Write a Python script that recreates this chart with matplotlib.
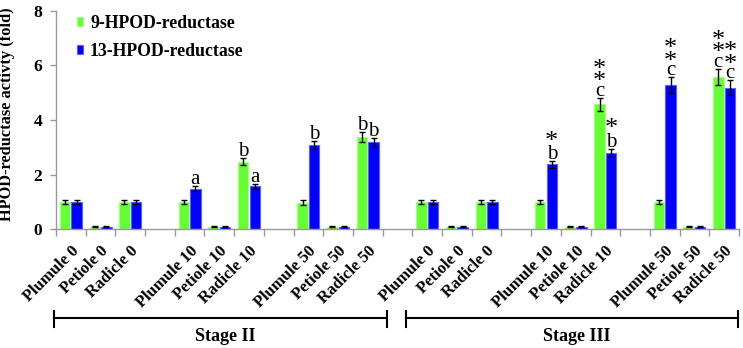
import numpy as np
import matplotlib
matplotlib.use("Agg")
import matplotlib.pyplot as plt
import matplotlib.transforms as mtransforms

nan = np.nan
categories = ['Plumule 0', 'Petiole 0', 'Radicle 0', '',
              'Plumule 10', 'Petiole 10', 'Radicle 10', '',
              'Plumule 50', 'Petiole 50', 'Radicle 50', '',
              'Plumule 0', 'Petiole 0', 'Radicle 0', '',
              'Plumule 10', 'Petiole 10', 'Radicle 10', '',
              'Plumule 50', 'Petiole 50', 'Radicle 50']
hpod9 = [1.0, 0.1, 1.0, nan, 1.0, 0.1, 2.48, nan, 0.98, 0.1, 3.37, nan,
         1.0, 0.1, 1.0, nan, 1.0, 0.1, 4.58, nan, 1.0, 0.1, 5.58]
hpod13 = [1.0, 0.1, 1.0, nan, 1.49, 0.1, 1.57, nan, 3.09, 0.1, 3.19, nan,
          1.0, 0.1, 1.0, nan, 2.38, 0.1, 2.8, nan, 5.28, 0.1, 5.19]
err9 = [0.08, 0.01, 0.08, nan, 0.08, 0.01, 0.14, nan, 0.08, 0.01, 0.18, nan,
        0.08, 0.01, 0.08, nan, 0.08, 0.01, 0.24, nan, 0.08, 0.01, 0.29]
err13 = [0.08, 0.01, 0.08, nan, 0.09, 0.01, 0.10, nan, 0.16, 0.01, 0.17, nan,
         0.08, 0.01, 0.08, nan, 0.12, 0.01, 0.15, nan, 0.29, 0.01, 0.27]
sig9 = ['', '', '', '', '', '', 'b', '', '', '', 'b', '',
        '', '', '', '', '', '', 'c', '', '', '', 'c']
stars9 = [0, 0, 0, 0, 0, 0, 0, 0, 0, 0, 0, 0,
          0, 0, 0, 0, 0, 0, 2, 0, 0, 0, 2]
sig13 = ['', '', '', '', 'a', '', 'a', '', 'b', '', 'b', '',
         '', '', '', '', 'b', '', 'b', '', 'c', '', 'c']
stars13 = [0, 0, 0, 0, 0, 0, 0, 0, 0, 0, 0, 0,
           0, 0, 0, 0, 1, 0, 1, 0, 2, 0, 2]
series_names = ['9-HPOD-reductase', '13-HPOD-reductase']
stages = ['Stage II', 'Stage III']
ylabel = 'HPOD-reductase activty (fold)'

SERIF = ['Liberation Serif', 'DejaVu Serif']
green = '#66FF33'
green_edge = '#A6FF80'
blue = '#0000FF'
blue_edge = '#5C5CFF'

fig = plt.figure(figsize=(7.43, 3.48), dpi=100)
ax = fig.add_axes([0.0754, 0.341, 0.9192, 0.628])

x = np.arange(len(categories))
w = 0.35
off = 0.195
ax.bar(x - off, hpod9, w, color=green, edgecolor=green_edge, linewidth=0.8,
       label=series_names[0], zorder=2)
ax.bar(x + off, hpod13, w, color=blue, edgecolor=blue_edge, linewidth=0.8,
       label=series_names[1], zorder=2)
ax.errorbar(x - off, hpod9, yerr=err9, fmt='none', ecolor='black',
            elinewidth=1.0, capsize=2.3, capthick=1.0, zorder=3)
ax.errorbar(x + off, hpod13, yerr=err13, fmt='none', ecolor='black',
            elinewidth=1.0, capsize=2.3, capthick=1.0, zorder=3)

px = 72.0 / 100.0  # points per pixel


def annotate(xs, vals, errs, sigs, stars):
    for xi, v, e, s, n in zip(xs, vals, errs, sigs, stars):
        if not s:
            continue
        top = v + e
        ax.annotate(s, (xi, top), xytext=(0, 2 * px), textcoords='offset points',
                    ha='center', va='baseline', fontsize=15,
                    family=SERIF, zorder=4)
        base = 22 if s == 'b' else 18
        for k in range(n):
            ax.annotate('*', (xi, top),
                        xytext=(0, (base + 12.5 * k) * px), textcoords='offset points',
                        ha='center', va='center_baseline', fontsize=19,
                        family=SERIF, zorder=4)


annotate(x - off, hpod9, err9, sig9, stars9)
annotate(x + off, hpod13, err13, sig13, stars13)

ax.set_xlim(-0.5, len(categories) - 0.5)
ax.set_ylim(0, 8)
ax.set_yticks([0, 2, 4, 6, 8])
ax.set_xticks(x)
ax.set_xticklabels(categories, rotation=45, ha='right', va='top',
                   rotation_mode='anchor', fontsize=12, fontweight='bold',
                   family=SERIF)
ax.set_xticks(np.arange(-0.5, len(categories)), minor=True)
ax.tick_params(axis='x', which='major', length=0, pad=10)
ax.tick_params(axis='x', which='minor', length=5, color='#999999', width=1)
ax.tick_params(axis='y', length=4, color='#999999', width=1, pad=6)
for lab in ax.get_yticklabels():
    lab.set_family(SERIF)
    lab.set_fontweight('bold')
    lab.set_fontsize(12.5)
for sp in ['top', 'right']:
    ax.spines[sp].set_visible(False)
for sp in ['left', 'bottom']:
    ax.spines[sp].set_color('#999999')
    ax.spines[sp].set_linewidth(1)

ax.set_ylabel(ylabel, fontsize=11.8, fontweight='bold', family=SERIF)
ax.yaxis.set_label_coords(-0.0605, 0.525)

leg = ax.legend(loc='upper left', bbox_to_anchor=(0.030, 0.98), frameon=False,
                borderaxespad=0, borderpad=0, handlelength=0.36, handleheight=0.38,
                handletextpad=0.4, labelspacing=0.62,
                prop={'family': SERIF, 'weight': 'bold', 'size': 12.8})

# stage brackets
trans = mtransforms.blended_transform_factory(ax.transData, fig.transFigure)
brackets = [(-0.57, 10.64), (11.28, 22.46)]
for (x0, x1), name in zip(brackets, stages):
    ax.plot([x0, x1], [0.0862, 0.0862], color='black', lw=1.5,
            transform=trans, clip_on=False)
    for xe in (x0, x1):
        ax.plot([xe, xe], [0.060, 0.107], color='black', lw=1.5,
                transform=trans, clip_on=False)
    ax.text((x0 + x1) / 2 + 0.15, 0.032, name, transform=trans, ha='center',
            va='center', fontsize=13, fontweight='bold', family=SERIF)

fig.savefig('out.png', dpi=100)
